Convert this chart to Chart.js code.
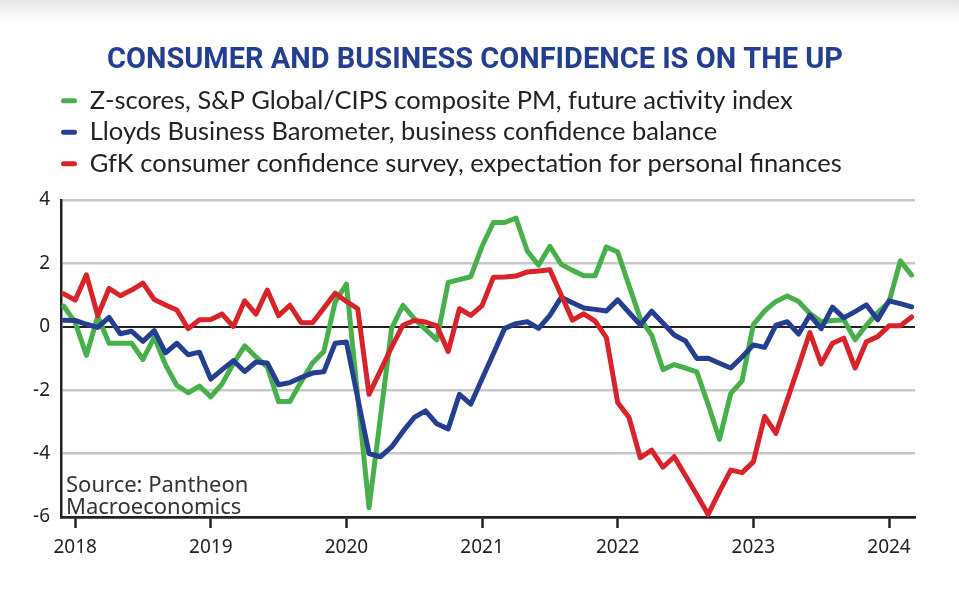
<!DOCTYPE html>
<html>
<head>
<meta charset="utf-8">
<script src="https://cdn.jsdelivr.net/npm/chart.js@4.4.1/dist/chart.umd.min.js"></script>
<style>
  html, body { margin: 0; padding: 0; }
  body { width: 959px; height: 592px; background: linear-gradient(#e4e4e4 0px, #f6f6f6 12px, #ffffff 24px); }
  canvas { display: block; }
</style>
</head>
<body>
<canvas id="c" width="959" height="592"></canvas>
<script>
// monthly points, Dec 2017 .. Mar 2024 (month index 0 = Jan 2018)
var firstMonth = -1;

var pmiFuture = [
  0.65, 0.14, -0.90, 0.33, -0.52, -0.52, -0.52, -1.03, -0.33, -1.20, -1.85, -2.08, -1.87,
  -2.21, -1.80, -1.16, -0.60, -0.95, -1.27, -2.36, -2.36, -1.73, -1.14, -0.78, 0.78,
  1.35, -2.20, -5.71, -2.88, -0.05, 0.68, 0.26, -0.08, -0.41, 1.40, 1.49, 1.58,
  2.54, 3.29, 3.29, 3.43, 2.39, 1.94, 2.54, 1.97, 1.78, 1.61, 1.61, 2.52,
  2.36, 1.30, 0.26, -0.26, -1.35, -1.19, -1.30, -1.42, -2.45, -3.55, -2.10, -1.71,
  0.07, 0.50, 0.80, 0.97, 0.80, 0.42, 0.16, 0.20, 0.22, -0.41, 0.05, 0.45,
  0.78, 2.08, 1.63
];

var lloyds = [
  0.21, 0.20, 0.08, -0.02, 0.30, -0.22, -0.14, -0.46, -0.12, -0.82, -0.52, -0.88, -0.80,
  -1.65, -1.35, -1.07, -1.41, -1.11, -1.14, -1.83, -1.76, -1.60, -1.46, -1.42, -0.52,
  -0.48, -2.25, -4.00, -4.10, -3.79, -3.30, -2.86, -2.65, -3.06, -3.22, -2.13, -2.44,
  -1.64, -0.85, -0.05, 0.10, 0.16, -0.05, 0.36, 0.93, 0.76, 0.59, 0.55, 0.50,
  0.85, 0.45, 0.06, 0.49, 0.12, -0.26, -0.45, -1.00, -0.99, -1.15, -1.30, -0.95,
  -0.57, -0.65, 0.05, 0.16, -0.23, 0.37, -0.06, 0.62, 0.28, 0.48, 0.69, 0.22,
  0.82, 0.73, 0.63
];

var gfk = [
  1.04, 0.84, 1.64, 0.35, 1.21, 0.98, 1.16, 1.38, 0.86, 0.69, 0.53, -0.06, 0.22,
  0.23, 0.40, 0.01, 0.82, 0.40, 1.16, 0.35, 0.68, 0.13, 0.13, 0.59, 1.06,
  0.80, 0.57, -2.13, -1.39, -0.64, 0.05, 0.20, 0.15, 0.03, -0.78, 0.57, 0.36,
  0.67, 1.56, 1.57, 1.60, 1.73, 1.76, 1.80, 1.00, 0.21, 0.41, 0.18, -0.34,
  -2.39, -2.86, -4.13, -3.89, -4.43, -4.10, -4.70, -5.30, -5.92, -5.20, -4.52, -4.60,
  -4.26, -2.83, -3.36, -2.30, -1.25, -0.18, -1.17, -0.52, -0.36, -1.30, -0.47, -0.31,
  0.03, 0.03, 0.31
];

var yearLabels = ["2018", "2019", "2020", "2021", "2022", "2023", "2024"];
var yTicks = [4, 2, 0, -2, -4, -6];

var seriesNames = [
  "Z-scores, S&P Global/CIPS composite PM, future activity index",
  "Lloyds Business Barometer, business confidence balance",
  "GfK consumer confidence survey, expectation for personal finances"
];
var chartTitle = "CONSUMER AND BUSINESS CONFIDENCE IS ON THE UP";

var GREEN = "#47b04b";
var NAVY = "#243f91";
var RED = "#d8232a";
var INK = "#222222";

var txtFont = "'Noto Sans', 'Liberation Sans', sans-serif";
var legendFont = "Lato, 'Noto Sans', sans-serif";

function toPoints(values) {
  return values.map(function (v, i) { return { x: firstMonth + i, y: v }; });
}

// condensed bold title, squeezed to the width it has in the original
var titleText = {
  id: "titleText",
  afterDraw: function (chart) {
    var ctx = chart.ctx;
    ctx.save();
    ctx.font = "bold 30px Roboto, 'Liberation Sans', sans-serif";
    var w = ctx.measureText(chartTitle).width;
    var sx = 736 / w;
    ctx.translate(475, 68);
    ctx.scale(sx, 1);
    ctx.fillStyle = NAVY;
    ctx.textAlign = "center";
    ctx.textBaseline = "alphabetic";
    ctx.fillText(chartTitle, 0, 0);
    ctx.restore();
  }
};

// draws the source note inside the plot
var sourceNote = {
  id: "sourceNote",
  afterDraw: function (chart) {
    var ctx = chart.ctx;
    ctx.save();
    ctx.font = "22px " + txtFont;
    ctx.fillStyle = "#333333";
    ctx.textAlign = "left";
    ctx.textBaseline = "alphabetic";
    ctx.fillText("Source: Pantheon", chart.chartArea.left + 5, 492);
    ctx.fillText("Macroeconomics", chart.chartArea.left + 5, 514);
    ctx.restore();
  }
};

// legend starts right of the y labels in the original
var legendNudge = {
  id: "legendNudge",
  afterLayout: function (chart) {
    if (chart.legend) {
      chart.legend.left += 25;
      chart.legend.right += 25;
    }
  }
};

var ctx = document.getElementById("c");

var chart = new Chart(ctx, {
  type: "line",
  data: {
    datasets: [
      { label: seriesNames[0], data: toPoints(pmiFuture), borderColor: GREEN, backgroundColor: GREEN, order: 3 },
      { label: seriesNames[1], data: toPoints(lloyds), borderColor: NAVY, backgroundColor: NAVY, order: 2 },
      { label: seriesNames[2], data: toPoints(gfk), borderColor: RED, backgroundColor: RED, order: 1 }
    ]
  },
  options: {
    responsive: false,
    animation: false,
    devicePixelRatio: 1,
    layout: { padding: { left: 30, right: 44, top: 82, bottom: 0 } },
    elements: {
      point: { radius: 0 },
      line: { borderWidth: 5, tension: 0, borderJoinStyle: "round", borderCapStyle: "round", fill: false }
    },
    plugins: {
      title: { display: false },
      legend: {
        display: true,
        position: "top",
        align: "start",
        labels: {
          boxWidth: 16,
          boxHeight: 5,
          useBorderRadius: true,
          borderRadius: 2.5,
          padding: 6,
          color: INK,
          font: { family: legendFont, size: 25.5 },
          sort: function (a, b) { return a.datasetIndex - b.datasetIndex; },
          generateLabels: function (chart) {
            var items = Chart.defaults.plugins.legend.labels.generateLabels(chart);
            items.forEach(function (it) { it.lineWidth = 0; it.strokeStyle = "rgba(0,0,0,0)"; });
            return items;
          }
        }
      },
      tooltip: { enabled: false }
    },
    scales: {
      x: {
        type: "linear",
        min: -1.25,
        max: 74.3,
        afterBuildTicks: function (scale) {
          scale.ticks = yearLabels.map(function (y, i) { return { value: i * 12 }; });
        },
        ticks: {
          color: INK,
          font: { family: txtFont, size: 19 },
          padding: 8,
          maxRotation: 0,
          callback: function (v) { return yearLabels[Math.round(v / 12)]; }
        },
        grid: { drawOnChartArea: false, drawTicks: true, tickLength: 11, tickWidth: 2.5, tickColor: INK },
        border: { color: INK, width: 2.5 },
        afterFit: function (scale) { scale.height = 75; }
      },
      gap: {
        type: "linear",
        position: "top",
        display: true,
        grid: { display: false, drawTicks: false },
        ticks: { display: false },
        border: { display: false },
        afterFit: function (scale) { scale.height = 13.5; }
      },
      y: {
        min: -6,
        max: 4,
        afterBuildTicks: function (scale) {
          scale.ticks = yTicks.map(function (v) { return { value: v }; });
        },
        ticks: { color: INK, font: { family: txtFont, size: 19 }, padding: 11 },
        grid: {
          drawTicks: false,
          color: function (c) { return (c.tick.value === 0 || c.tick.value === -6) ? INK : "#c8c8c8"; },
          lineWidth: function (c) { return c.tick.value === 0 ? 2 : 2.5; }
        },
        border: { color: INK, width: 2.5 },
        afterFit: function (scale) { scale.width = 31; }
      }
    }
  },
  plugins: [titleText, sourceNote, legendNudge]
});
</script>
</body>
</html>
